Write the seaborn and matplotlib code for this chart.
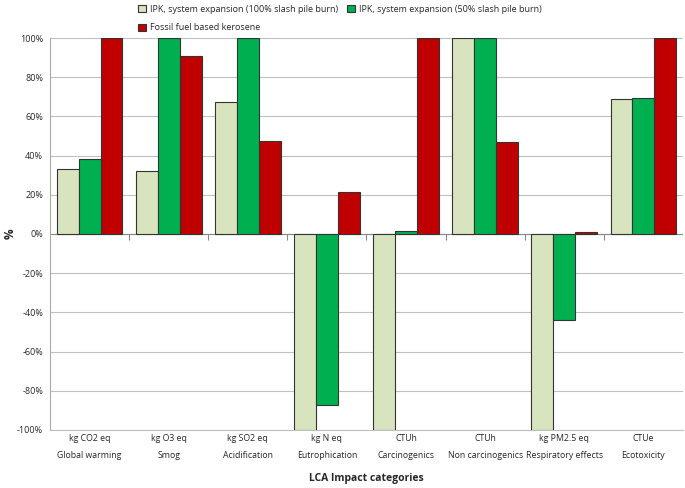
import numpy as np
import pandas as pd
import seaborn as sns
import matplotlib.pyplot as plt

# Chart data
categories = ["Global warming", "Smog", "Acidification", "Eutrophication",
              "Carcinogenics", "Non carcinogenics", "Respiratory effects", "Ecotoxicity"]
units = ["kg CO2 eq", "kg O3 eq", "kg SO2 eq", "kg N eq",
         "CTUh", "CTUh", "kg PM2.5 eq", "CTUe"]
series_names = ["IPK, system expansion (100% slash pile burn)",
                "IPK, system expansion (50% slash pile burn)",
                "Fossil fuel based kerosene"]
ipk_100 = [33, 32, 67.5, -100, -100, 100, -100, 69]
ipk_50 = [38.5, 100, 100, -87.5, 1.5, 100, -44, 69.5]
fossil = [100, 91, 47.5, 21.5, 100, 47, 1, 100]
y_ticks = [-100, -80, -60, -40, -20, 0, 20, 40, 60, 80, 100]
colors = ["#d7e4bd", "#00b050", "#c00000"]

df = pd.DataFrame({
    "category": categories * 3,
    "series": np.repeat(series_names, len(categories)),
    "value": ipk_100 + ipk_50 + fossil,
})

sns.set_style("white")
plt.rcParams["font.family"] = ["Open Sans", "DejaVu Sans"]

fig = plt.figure(figsize=(6.85, 4.88), dpi=100)
ax = fig.add_axes([0.073, 0.119, 0.924, 0.803])

sns.barplot(data=df, x="category", y="value", hue="series", hue_order=series_names,
            order=categories, palette=colors, saturation=1, width=0.83,
            edgecolor="#333333", linewidth=0.8, ax=ax, zorder=3)

ax.set_ylim(-100, 100)
ax.set_xlim(-0.5, len(categories) - 0.5)
ax.set_yticks(y_ticks)
ax.set_yticklabels([f"{v}%" for v in y_ticks], fontsize=6.5)
ax.yaxis.grid(True, color="#c0c0c0", linewidth=0.8, zorder=0)
ax.axhline(0, color="#888888", linewidth=0.8, zorder=2)

# category labels below the plot, separated by vertical lines
ax.set_xticks(range(len(categories)))
ax.set_xticklabels([f"{u}\n{c}" for u, c in zip(units, categories)], fontsize=6.3,
                   linespacing=2.1)
ax.tick_params(axis="x", which="major", length=0, pad=3)
bounds = np.arange(len(categories) + 1) - 0.5
ax.set_xticks(bounds, minor=True)
ax.tick_params(axis="x", which="minor", length=30, color="#aaaaaa", width=0.8)
ax.vlines(bounds[1:-1], -3, 0, color="#888888", linewidth=0.8, zorder=2)
ax.tick_params(axis="y", length=3, color="#aaaaaa", pad=2)

for s in ["top", "right"]:
    ax.spines[s].set_visible(False)
ax.spines["bottom"].set_color("#c0c0c0")
ax.spines["left"].set_color("#aaaaaa")

ax.set_ylabel("%", fontsize=8.5, fontweight="bold")
ax.yaxis.set_label_coords(-0.052, 0.5)
ax.set_xlabel("LCA Impact categories", fontsize=7.5, fontweight="bold")
ax.xaxis.set_label_coords(0.5, -0.11)

handles, labels = ax.get_legend_handles_labels()
ax.get_legend().remove()
order = [0, 2, 1]
fig.legend([handles[i] for i in order], [labels[i] for i in order], loc="upper left",
           bbox_to_anchor=(0.195, 1.0), ncol=2, frameon=False, fontsize=6.5,
           handlelength=0.9, handleheight=0.9, handletextpad=0.4, columnspacing=1.0,
           labelspacing=1.1, borderaxespad=0.1)

fig.savefig("out.png", dpi=100)
